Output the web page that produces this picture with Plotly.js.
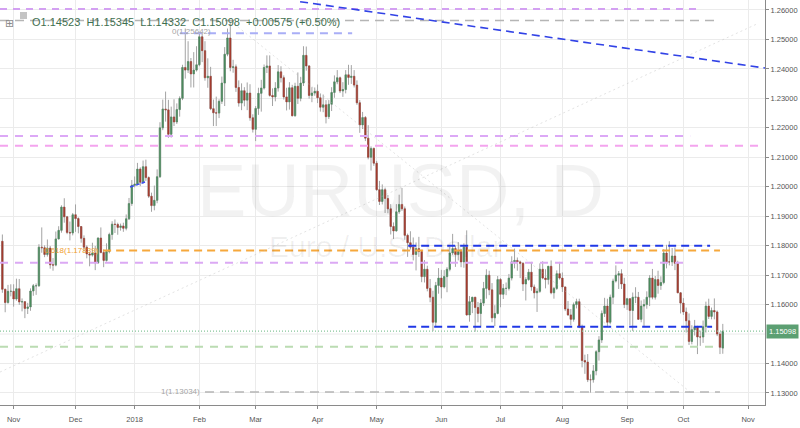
<!DOCTYPE html>
<html><head><meta charset="utf-8">
<script src="https://cdn.plot.ly/plotly-3.0.1.min.js"></script>
<style>html,body{margin:0;padding:0;background:#fff}#chart{width:800px;height:428px}</style>
</head><body><div id="chart"></div>
<script>
// EUR/USD daily candles, 2017-10-26 .. 2018-10-19 (weekdays)
const startDate = '2017-10-26';
const openP = [
 1.1815,1.1652,1.1607,1.1645,
 1.1645,1.1619,1.1654,1.1609,1.1610,1.1587,1.1592,1.1646,1.1664,1.1664,1.1795,1.1793,1.1770,1.1792,1.1735,1.1734,1.1823,1.1852,1.1931,1.1898,1.1845,1.1843,
 1.1905,1.1892,1.1865,1.1825,1.1795,1.1772,1.1768,1.1775,1.1742,1.1826,1.1777,1.1750,1.1780,1.1838,1.1873,1.1872,1.1862,1.1867,1.1859,1.1891,1.1943,
 1.2005,1.2009,1.2060,1.2015,1.2068,1.2031,1.1968,1.1936,1.1954,1.2034,1.2200,1.2264,1.2261,1.2178,1.2237,1.2220,1.2262,1.2300,1.2405,1.2396,1.2425,1.2383,1.2396,
 1.2414,1.2509,1.2462,1.2370,1.2375,1.2265,1.2251,1.2250,1.2290,1.2352,1.2450,1.2505,1.2405,1.2407,1.2337,1.2284,1.2326,1.2294,1.2318,1.2234,
 1.2195,1.2266,1.2317,1.2335,1.2405,1.2410,1.2310,1.2305,1.2335,1.2390,1.2370,1.2305,1.2288,1.2336,1.2241,1.2341,1.2300,1.2352,1.2446,1.2410,1.2310,1.2318,
 1.2324,1.2302,1.2270,1.2278,1.2238,1.2280,1.2320,1.2356,1.2370,1.2325,1.2330,1.2380,1.2371,1.2375,1.2345,1.2285,1.2210,1.2235,1.2165,1.2100,1.2130,
 1.2080,1.1990,1.1950,1.1990,1.1960,1.1925,1.1865,1.1850,1.1915,1.1940,1.1925,1.1835,1.1810,1.1795,1.1770,1.1790,1.1780,1.1695,1.1720,1.1655,1.1625,1.1540,1.1665,
 1.1690,1.1660,1.1695,1.1720,1.1775,1.1790,1.1770,1.1780,1.1745,1.1795,1.1565,1.1610,1.1625,1.1590,1.1570,1.1605,1.1655,1.1700,1.1650,1.1555,1.1570,
 1.1685,1.1635,1.1655,1.1655,1.1690,1.1745,1.1750,1.1745,1.1740,1.1670,1.1685,1.1710,1.1660,1.1640,1.1645,1.1720,1.1690,1.1685,1.1730,1.1640,1.1655,1.1705,
 1.1690,1.1660,1.1585,1.1565,1.1550,1.1600,1.1610,1.1525,1.1410,1.1405,1.1345,1.1345,1.1375,1.1440,1.1480,1.1570,1.1595,1.1540,1.1625,1.1680,1.1700,1.1705,1.1670,
 1.1600,1.1620,1.1580,1.1625,1.1625,1.1550,1.1595,1.1600,1.1625,1.1690,1.1625,1.1685,1.1665,1.1675,1.1775,1.1745,1.1745,1.1765,1.1740,1.1640,
 1.1605,1.1575,1.1545,1.1475,1.1515,1.1525,1.1490,1.1490,1.1525,1.1595,1.1560,1.1580,1.1575,1.1500,1.14523
];
const highP = [
 1.1838,1.1654,1.1667,1.1669,
 1.1669,1.1688,1.1687,1.1621,1.1612,1.1606,1.1655,1.1670,1.1672,1.1805,1.1862,1.1801,1.1821,1.1799,1.1758,1.1848,1.1866,1.1937,1.1961,1.1901,1.1882,1.1911,
 1.1940,1.1896,1.1866,1.1835,1.1801,1.1778,1.1810,1.1799,1.1828,1.1862,1.1787,1.1808,1.1844,1.1883,1.1889,1.1878,1.1875,1.1878,1.1906,1.1962,1.2023,
 1.2035,1.2081,1.2066,1.2089,1.2092,1.2035,1.1980,1.2004,1.2059,1.2219,1.2296,1.2323,1.2295,1.2272,1.2297,1.2283,1.2307,1.2414,1.2537,1.2494,1.2437,1.2457,1.2477,
 1.2523,1.2520,1.2494,1.2436,1.2407,1.2296,1.2306,1.2297,1.2374,1.2474,1.2537,1.2555,1.2431,1.2415,1.2361,1.2351,1.2338,1.2354,1.2348,1.2246,
 1.2274,1.2336,1.2363,1.2415,1.2446,1.2446,1.2334,1.2355,1.2413,1.2409,1.2378,1.2336,1.2355,1.2346,1.2353,1.2388,1.2373,1.2477,1.2476,1.2413,1.2338,1.2337,
 1.2347,1.2316,1.2313,1.2294,1.2294,1.2338,1.2378,1.2396,1.2374,1.2355,1.2396,1.2414,1.2413,1.2396,1.2361,1.2294,1.2254,1.2240,1.2209,1.2137,1.2133,
 1.2088,1.2020,1.2008,1.1997,1.1972,1.1941,1.1879,1.1941,1.1973,1.1996,1.1933,1.1841,1.1849,1.1828,1.1811,1.1830,1.1786,1.1751,1.1732,1.1687,1.1647,1.1677,1.1724,
 1.1718,1.1717,1.1727,1.1796,1.1840,1.1800,1.1812,1.1789,1.1808,1.1852,1.1629,1.1624,1.1625,1.1609,1.1619,1.1677,1.1720,1.1715,1.1673,1.1598,1.1697,
 1.1690,1.1670,1.1675,1.1704,1.1764,1.1790,1.1760,1.1749,1.1744,1.1693,1.1721,1.1745,1.1668,1.1655,1.1740,1.1747,1.1720,1.1730,1.1750,1.1660,1.1716,1.1745,
 1.1709,1.1660,1.1612,1.1585,1.1607,1.1620,1.1620,1.1532,1.1430,1.1432,1.1363,1.1395,1.1445,1.1493,1.1580,1.1623,1.1620,1.1634,1.1688,1.1733,1.1714,1.1720,1.1691,
 1.1623,1.1620,1.1641,1.1659,1.1643,1.1614,1.1618,1.1645,1.1700,1.1721,1.1697,1.1715,1.1696,1.1788,1.1803,1.1815,1.1792,1.1794,1.1749,1.1642,
 1.1622,1.1590,1.1570,1.1530,1.1548,1.1528,1.1512,1.1546,1.1610,1.1620,1.1590,1.1621,1.1580,1.1507,1.15345
];
const lowP = [
 1.1640,1.1574,1.1603,1.1628,
 1.1593,1.1613,1.1599,1.1577,1.1554,1.1568,1.1579,1.1630,1.1633,1.1660,1.1776,1.1761,1.1763,1.1722,1.1715,1.1730,1.1821,1.1844,1.1878,1.1839,1.1818,1.1835,
 1.1847,1.1842,1.1810,1.1780,1.1757,1.1730,1.1763,1.1717,1.1738,1.1774,1.1727,1.1746,1.1774,1.1820,1.1843,1.1837,1.1851,1.1847,1.1852,1.1887,1.1935,
 1.1998,1.2005,1.2002,1.2011,1.2020,1.1962,1.1915,1.1920,1.1944,1.2030,1.2192,1.2221,1.2166,1.2167,1.2206,1.2213,1.2238,1.2294,1.2367,1.2386,1.2337,1.2337,1.2391,
 1.2409,1.2423,1.2360,1.2336,1.2260,1.2206,1.2206,1.2233,1.2281,1.2274,1.2443,1.2392,1.2387,1.2322,1.2272,1.2260,1.2273,1.2260,1.2224,1.2184,
 1.2155,1.2244,1.2255,1.2330,1.2386,1.2306,1.2274,1.2290,1.2323,1.2354,1.2296,1.2259,1.2262,1.2239,1.2238,1.2281,1.2290,1.2342,1.2394,1.2299,1.2287,1.2309,
 1.2284,1.2255,1.2253,1.2215,1.2230,1.2257,1.2302,1.2348,1.2318,1.2305,1.2317,1.2346,1.2349,1.2337,1.2278,1.2183,1.2196,1.2155,1.2093,1.2055,1.2071,
 1.1986,1.1938,1.1940,1.1911,1.1910,1.1838,1.1823,1.1848,1.1908,1.1918,1.1820,1.1762,1.1787,1.1750,1.1716,1.1762,1.1676,1.1675,1.1645,1.1608,1.1510,1.1527,1.1637,
 1.1621,1.1655,1.1642,1.1713,1.1768,1.1728,1.1750,1.1727,1.1725,1.1563,1.1542,1.1571,1.1508,1.1540,1.1527,1.1595,1.1620,1.1632,1.1540,1.1527,1.1567,
 1.1591,1.1619,1.1632,1.1648,1.1682,1.1723,1.1715,1.1690,1.1646,1.1614,1.1681,1.1647,1.1621,1.1575,1.1640,1.1686,1.1655,1.1668,1.1635,1.1620,1.1650,1.1685,
 1.1643,1.1578,1.1562,1.1530,1.1542,1.1587,1.1520,1.1387,1.1365,1.1337,1.1301,1.1335,1.1360,1.1410,1.1470,1.1558,1.1527,1.1533,1.1602,1.1675,1.1653,1.1653,1.1588,
 1.1582,1.1530,1.1510,1.1605,1.1548,1.1540,1.1527,1.1586,1.1595,1.1618,1.1617,1.1637,1.1650,1.1669,1.1723,1.1733,1.1731,1.1717,1.1640,1.1570,
 1.1565,1.1505,1.1463,1.1465,1.1495,1.1432,1.1460,1.1470,1.1505,1.1551,1.1550,1.1550,1.1493,1.1432,1.14332
];
const closeP = [
 1.1652,1.1607,1.1645,1.1645,
 1.1619,1.1654,1.1609,1.1610,1.1587,1.1592,1.1646,1.1664,1.1664,1.1795,1.1793,1.1770,1.1792,1.1735,1.1734,1.1823,1.1852,1.1931,1.1898,1.1845,1.1843,1.1905,
 1.1892,1.1865,1.1825,1.1795,1.1772,1.1768,1.1775,1.1742,1.1826,1.1777,1.1750,1.1780,1.1838,1.1873,1.1872,1.1862,1.1867,1.1859,1.1891,1.1943,1.2005,
 1.2009,1.2060,1.2015,1.2068,1.2031,1.1968,1.1936,1.1954,1.2034,1.2200,1.2264,1.2261,1.2178,1.2237,1.2220,1.2262,1.2300,1.2405,1.2396,1.2425,1.2383,1.2396,1.2414,
 1.2509,1.2462,1.2370,1.2375,1.2265,1.2251,1.2250,1.2290,1.2352,1.2450,1.2505,1.2405,1.2407,1.2337,1.2284,1.2326,1.2294,1.2318,1.2234,1.2195,
 1.2266,1.2317,1.2335,1.2405,1.2410,1.2310,1.2305,1.2335,1.2390,1.2370,1.2305,1.2288,1.2336,1.2241,1.2341,1.2300,1.2352,1.2446,1.2410,1.2310,1.2318,1.2324,
 1.2302,1.2270,1.2278,1.2238,1.2280,1.2320,1.2356,1.2370,1.2325,1.2330,1.2380,1.2371,1.2375,1.2345,1.2285,1.2210,1.2235,1.2165,1.2100,1.2130,1.2080,
 1.1990,1.1950,1.1990,1.1960,1.1925,1.1865,1.1850,1.1915,1.1940,1.1925,1.1835,1.1810,1.1795,1.1770,1.1790,1.1780,1.1695,1.1720,1.1655,1.1625,1.1540,1.1665,1.1690,
 1.1660,1.1695,1.1720,1.1775,1.1790,1.1770,1.1780,1.1745,1.1795,1.1565,1.1610,1.1625,1.1590,1.1570,1.1605,1.1655,1.1700,1.1650,1.1555,1.1570,1.1685,
 1.1635,1.1655,1.1655,1.1690,1.1745,1.1750,1.1745,1.1740,1.1670,1.1685,1.1710,1.1660,1.1640,1.1645,1.1720,1.1690,1.1685,1.1730,1.1640,1.1655,1.1705,1.1690,
 1.1660,1.1585,1.1565,1.1550,1.1600,1.1610,1.1525,1.1410,1.1405,1.1345,1.1345,1.1375,1.1440,1.1480,1.1570,1.1595,1.1540,1.1625,1.1680,1.1700,1.1705,1.1670,1.1600,
 1.1620,1.1580,1.1625,1.1625,1.1550,1.1595,1.1600,1.1625,1.1690,1.1625,1.1685,1.1665,1.1675,1.1775,1.1745,1.1745,1.1765,1.1740,1.1640,1.1605,
 1.1575,1.1545,1.1475,1.1515,1.1525,1.1490,1.1490,1.1525,1.1595,1.1560,1.1580,1.1575,1.1500,1.1455,1.15098
];
const monthAbbr = ['Jan','Feb','Mar','Apr','May','Jun','Jul','Aug','Sep','Oct','Nov','Dec'];
const priceTicks = [1.13,1.14,1.15,1.16,1.17,1.18,1.19,1.20,1.21,1.22,1.23,1.24,1.25,1.26];
const headerText = 'O1.14523  H1.15345  L1.14332  C1.15098  +0.00575 (+0.50%)';
const lastPrice = 1.15098;
const fibLevels = [1.25642, 1.17839, 1.13034];
const fibLabels = ['0(1.25642)', '0.618(1.17839)', '1(1.13034)'];

// --- x positions: trading-day index ---
function weekdays(start, n){
  const out=[]; const d=new Date(start+'T00:00:00Z');
  while(out.length<n){ const wd=d.getUTCDay(); if(wd!==0&&wd!==6) out.push(new Date(d)); d.setUTCDate(d.getUTCDate()+1); }
  return out;
}
const days = weekdays(startDate, closeP.length + 15);
const xIdx = closeP.map((_,i)=>i);
const tickVals=[], tickText=[];
for(let i=1;i<days.length;i++){
  if(days[i].getUTCMonth()!==days[i-1].getUTCMonth()){
    tickVals.push(i);
    const m=days[i].getUTCMonth();
    tickText.push(m===0 ? String(days[i].getUTCFullYear()) : monthAbbr[m]);
  }
}
const bodyHi = openP.map((o,i)=>Math.max(o,closeP[i]));
const bodyLo = openP.map((o,i)=>Math.min(o,closeP[i]));
// the last-price tag hides the tick label it covers
const shownTicks = priceTicks.filter(v => Math.abs(v - lastPrice) > 0.003);
const hiddenTicks = priceTicks.filter(v => Math.abs(v - lastPrice) <= 0.003);

const XL=-0.84, XR=271.0;
const UP='#4b8b5e', DN='#a33c2f', WICK='#a3a3a3';

const traces = [];
const tools = [
 {x:[XL,247.9], y:[1.26034,1.26034], c:'#d3a0f2', d:'7px,6px', w:2},
 {x:[XL,255], y:[fibLevels[0],fibLevels[0]], c:'#b5b5b5', d:'9px,6px', w:1.5},
 {x:[63.1,124.3], y:[1.2521,1.2521], c:'#a9aef6', d:'8px,6px', w:2},
 {x:[105.8,271], y:[1.26282,1.2403], c:'#3142e6', d:'8px,5px', w:1.6},
 {x:[XL,244.4], y:[1.2172,1.2172], c:'#dca8f6', d:'8px,7px', w:2},
 {x:[XL,XR], y:[1.2139,1.2139], c:'#f4a4ee', d:'8px,7px', w:2},
 {x:[35.8,255], y:[fibLevels[1],fibLevels[1]], c:'#f6a83c', d:'8px,5px', w:2},
 {x:[144.2,251.5], y:[1.1800,1.1800], c:'#2038e6', d:'8px,5px', w:2},
 {x:[XL,243.6], y:[1.1742,1.1742], c:'#dba9f4', d:'8px,7px', w:2},
 {x:[144.2,252.2], y:[1.1525,1.1525], c:'#2038e6', d:'8px,5px', w:2},
 {x:[XL,255], y:[1.1457,1.1457], c:'#bbdcb2', d:'8px,7px', w:2},
 {x:[72,255], y:[fibLevels[2],fibLevels[2]], c:'#b5b5b5', d:'9px,6px', w:1.5},
 {x:[45.4,50.7], y:[1.1999,1.2016], c:'#3a4cf0', d:'4px,2px', w:1.5},
 {x:[80.9,244.4], y:[fibLevels[0],fibLevels[2]], c:'rgba(185,185,185,0.4)', d:'2px,3px', w:1},
 {x:[XL,268], y:[1.1371,1.2552], c:'rgba(185,185,185,0.4)', d:'2px,3px', w:1},
];
tools.forEach(t=>traces.push({type:'scatter', mode:'lines', x:t.x, y:t.y, hoverinfo:'skip',
  line:{color:t.c, width:t.w, dash:t.d}}));

traces.push({type:'candlestick', x:xIdx, open:openP, high:highP, low:lowP, close:closeP,
  whiskerwidth:0, hoverinfo:'skip',
  increasing:{line:{color:WICK,width:1}, fillcolor:WICK},
  decreasing:{line:{color:WICK,width:1}, fillcolor:WICK}});
traces.push({type:'candlestick', x:xIdx, open:openP, high:bodyHi, low:bodyLo, close:closeP,
  whiskerwidth:0, hoverinfo:'skip',
  increasing:{line:{color:UP,width:0.4}, fillcolor:UP},
  decreasing:{line:{color:DN,width:0.4}, fillcolor:DN}});
traces.push({type:'scatter', mode:'lines', x:[XL,XR], y:[lastPrice,lastPrice], hoverinfo:'skip',
  line:{color:'#86c59a', width:1.2, dash:'1px,2px'}});

const PW=765, PH=405;
const px = v => v/PW, py = v => 1 - v/PH;
const shapes = [
  {type:'rect', xref:'paper', yref:'paper', x0:px(20), x1:px(27), y0:py(19), y1:py(12),
   fillcolor:'#c4c4c4', line:{width:0}}
];
hiddenTicks.forEach(v=>shapes.push({type:'line', xref:'paper', yref:'y', x0:0, x1:1, y0:v, y1:v,
  layer:'below', line:{color:'#ebebeb', width:1}}));

const layout = {
  width:800, height:428, margin:{l:0,r:35,t:0,b:23},
  paper_bgcolor:'#ffffff', plot_bgcolor:'#ffffff', showlegend:false,
  font:{family:'Liberation Sans, Arial, sans-serif', size:7.5, color:'#555'},
  xaxis:{range:[XL,XR], tickvals:tickVals, ticktext:tickText, showgrid:true, gridcolor:'#ebebeb',
    showline:true, linecolor:'#8a8a8a', ticks:'outside', ticklen:3, tickcolor:'#8a8a8a',
    zeroline:false, rangeslider:{visible:false}, fixedrange:true, ticklabelstandoff:4,
    tickfont:{size:7.5, color:'#555'}},
  yaxis:{side:'right', range:[1.12592,1.26339], tickvals:shownTicks, tickformat:'.5f',
    showgrid:true, gridcolor:'#ebebeb', showline:true, linecolor:'#8a8a8a', ticks:'outside',
    ticklen:3, tickcolor:'#8a8a8a', zeroline:false, fixedrange:true, tickfont:{size:7.5, color:'#555'}},
  shapes:shapes,
  annotations:[
    {xref:'paper', yref:'paper', x:px(400), y:py(190), text:'EURUSD, D', showarrow:false,
     font:{size:74, color:'rgba(0,0,0,0.05)', family:'Liberation Sans, Arial, sans-serif'}},
    {xref:'paper', yref:'paper', x:px(385), y:py(247), text:'Euro / U.S. Dollar', showarrow:false,
     font:{size:30, color:'rgba(0,0,0,0.06)', family:'Liberation Sans, Arial, sans-serif'}},
    {xref:'paper', yref:'paper', x:px(3), y:py(15), xanchor:'left', text:'⊞', showarrow:false,
     font:{size:11, color:'#8a8a8a', family:'DejaVu Sans'}},
    {xref:'paper', yref:'paper', x:px(30), y:py(14), xanchor:'left', text:headerText, showarrow:false,
     font:{size:11, color:'#3f6f50'}},
    {xref:'x', yref:'y', x:74.9, y:fibLevels[0], xanchor:'right', yanchor:'top', yshift:-4, text:fibLabels[0], showarrow:false,
     font:{size:8, color:'#a5a5a5'}},
    {xref:'x', yref:'y', x:35.1, y:fibLevels[1], xanchor:'right', text:fibLabels[1], showarrow:false,
     font:{size:8, color:'#f0a030'}},
    {xref:'x', yref:'y', x:70.9, y:fibLevels[2], xanchor:'right', text:fibLabels[2], showarrow:false,
     font:{size:8, color:'#a5a5a5'}},
    {xref:'paper', yref:'y', x:1, y:lastPrice, xanchor:'left', xshift:1, text:lastPrice.toFixed(5), showarrow:false,
     bgcolor:'#5c9f72', borderpad:2, font:{size:7.5, color:'#ffffff'}}
  ]
};
Plotly.newPlot('chart', traces, layout, {staticPlot:true, displayModeBar:false});
</script>
</body></html>
